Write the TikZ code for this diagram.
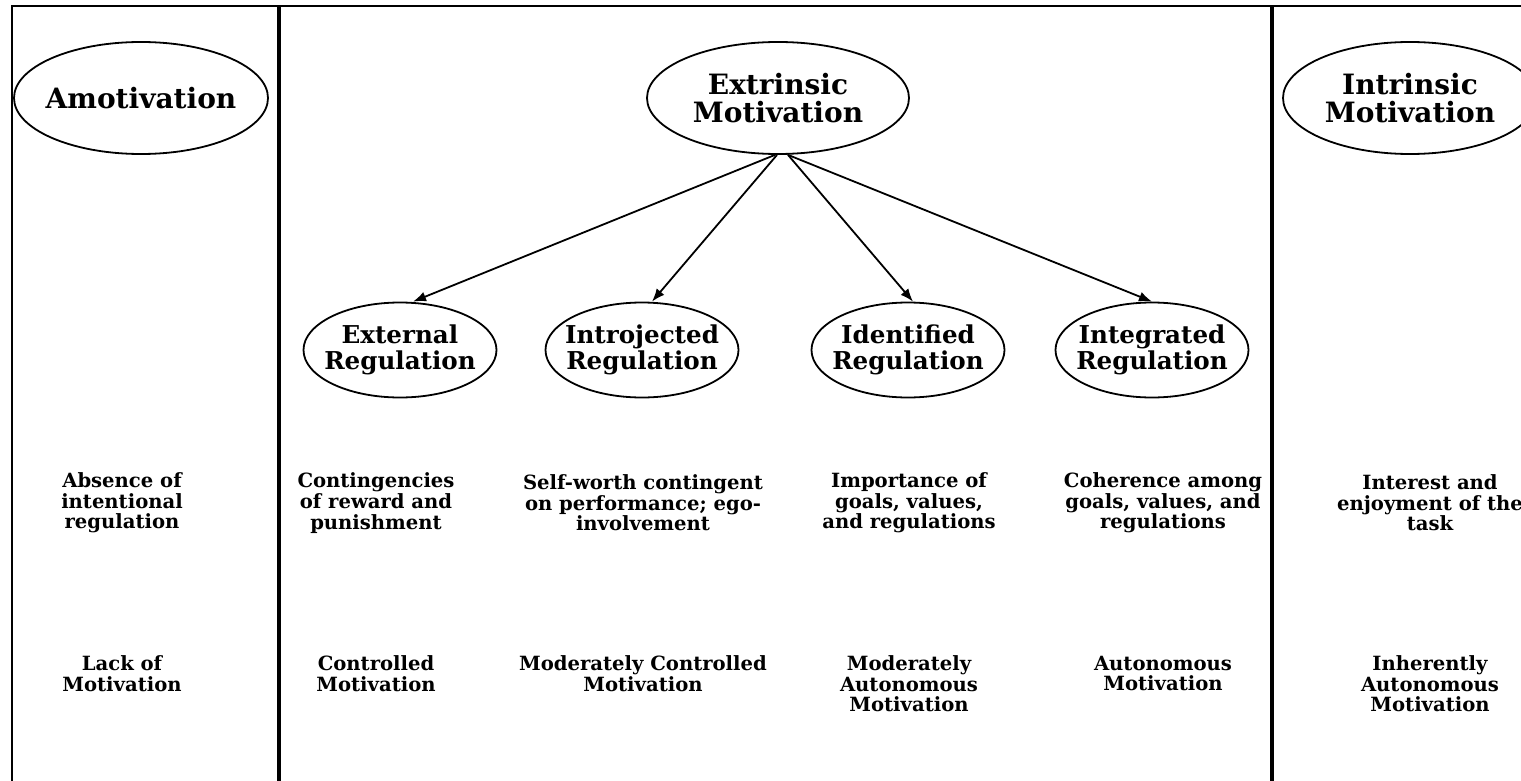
\documentclass[tikz,border=0pt]{standalone}
\usepackage{fontspec}
\setmainfont{DejaVu Serif}
\usepackage{tikz}
\usetikzlibrary{shapes.geometric,arrows.meta}

\begin{document}
\begin{tikzpicture}[x=0.5pt,y=-0.5pt,
	bigell/.style={draw,line width=0.9pt,ellipse,inner sep=-30pt,minimum width=254*0.5pt,minimum height=112*0.5pt,align=center,font=\fontsize{14}{14}\selectfont\bfseries},
	smallell/.style={draw,line width=0.9pt,ellipse,inner sep=-30pt,minimum width=193*0.5pt,minimum height=95*0.5pt,align=center,font=\fontsize{12.3}{13}\selectfont\bfseries},
	txt/.style={align=center,inner sep=0pt,font=\fontsize{9.8}{10.3}\selectfont\bfseries},
	arr/.style={-{Latex[length=6.5pt,width=5pt]},line width=0.9pt}]
		\useasboundingbox (0,0) rectangle (1521,781);
		\draw[black, line width=0.75pt] (12,781) -- (12,6) -- (1521,6);
		\draw[black, line width=2pt] (279,6) -- (279,781);
		\draw[black, line width=2pt] (1272,6) -- (1272,781);
		\node[bigell] (amot) at (141,98) {Amotivation};
		\node[bigell,minimum width=262*0.5pt] (extr) at (778,98) {Extrinsic\\Motivation};
		\node[bigell] (intr) at (1410,98) {Intrinsic\\Motivation};
		\node[smallell] (extreg) at (400,350) {External\\Regulation};
		\node[smallell] (introj) at (642,350) {Introjected\\Regulation};
		\node[smallell] (ident) at (908,350) {Identified\\Regulation};
		\node[smallell] (integ) at (1152,350) {Integrated\\Regulation};
		\draw[arr] ([xshift=-1.5pt]extr.south) -- ([xshift=6.5pt]extreg.north);
		\draw[arr] ([xshift=-0.5pt]extr.south) -- ([xshift=5pt]introj.north);
		\draw[arr] ([xshift=5pt]extr.south) -- ([xshift=2.5pt]ident.north);
		\draw[arr] ([xshift=5pt]extr.south) -- (integ.north);
		\node[txt] (amotdesc) at (122,503) {Absence of\\intentional\\regulation};
		\node[txt] (extdesc) at (376,503) {Contingencies\\of reward and\\punishment};
		\node[txt] (introjdesc) at (643,503) {Self-worth contingent\\on performance; ego-\\involvement};
		\node[txt] (identdesc) at (909,503) {Importance of\\goals, values,\\and regulations};
		\node[txt] (integdesc) at (1163,503) {Coherence among\\goals, values, and\\regulations};
		\node[txt] (intrdesc) at (1430,503) {Interest and\\enjoyment of the\\task};
		\node[txt] (amotkind) at (122,673.5) {Lack of\\Motivation};
		\node[txt] (extkind) at (376,673.5) {Controlled\\Motivation};
		\node[txt] (introjkind) at (643,673.5) {Moderately Controlled\\Motivation};
		\node[txt] (identkind) at (909,684) {Moderately\\Autonomous\\Motivation};
		\node[txt] (integkind) at (1163,673.5) {Autonomous\\Motivation};
		\node[txt] (intrkind) at (1430,684) {Inherently\\Autonomous\\Motivation};
\end{tikzpicture}
\end{document}
